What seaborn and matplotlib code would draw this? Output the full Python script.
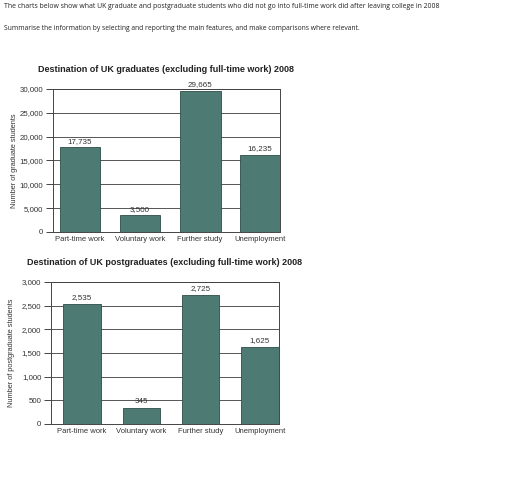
import matplotlib
matplotlib.use("Agg")
import matplotlib.pyplot as plt
import seaborn as sns
import pandas as pd

# data
categories = ["Part-time work", "Voluntary work", "Further study", "Unemployment"]
grad_values = [17735, 3500, 29665, 16235]
postgrad_values = [2535, 345, 2725, 1625]
grad_ticks = [0, 5000, 10000, 15000, 20000, 25000, 30000]
postgrad_ticks = [0, 500, 1000, 1500, 2000, 2500, 3000]

header1 = ("The charts below show what UK graduate and postgraduate students who did not go "
           "into full-time work did after leaving college in 2008")
header2 = "Summarise the information by selecting and reporting the main features, and make comparisons where relevant."

sns.set_style("white")
plt.rcParams["font.family"] = ["Liberation Sans", "DejaVu Sans"]

bar_col = "#4d7a72"
edge_col = "#2e4d48"
text_col = "#333333"

fig = plt.figure(figsize=(5.12, 5.0), dpi=100)
fig.patch.set_facecolor("white")

fig.text(4 / 512, 1 - 7 / 500, header1, fontsize=4.95, family="Open Sans", va="center", ha="left", color="#222222")
fig.text(4 / 512, 1 - 28 / 500, header2, fontsize=4.9, family="Open Sans", va="center", ha="left", color="#222222")


def draw(ax, values, ticks, title, ylabel, width, xlim, ylabel_x):
    df = pd.DataFrame({"cat": categories, "val": values})
    sns.barplot(data=df, x="cat", y="val", color=bar_col, width=width,
                edgecolor=edge_col, linewidth=0.6, saturation=1, ax=ax, zorder=3)
    ax.set_xlim(*xlim)
    ax.set_ylim(0, ticks[-1])
    ax.set_yticks(ticks)
    ax.set_yticklabels([f"{t:,}" for t in ticks], fontsize=5.7, color=text_col)
    ax.set_xticks(range(len(categories)))
    ax.set_xticklabels(categories, fontsize=5.5, color=text_col)
    ax.tick_params(axis="y", direction="out", length=5, width=0.7, color="#444444", pad=2, left=True)
    ax.tick_params(axis="x", length=0, pad=3)
    ax.yaxis.grid(True, color="#555555", linewidth=0.7, zorder=0)
    ax.set_axisbelow(True)
    for s in ax.spines.values():
        s.set_visible(True)
        s.set_color("#444444")
        s.set_linewidth(0.7)
    ax.set_xlabel("")
    ax.set_ylabel("")
    fig.text(ylabel_x, ax.get_position().y0 + ax.get_position().height / 2, ylabel,
             rotation=90, fontsize=5.3, color=text_col, ha="center", va="center")
    ax.set_title(title, fontsize=6.45, fontweight="bold", color="#222222", pad=12)
    for i, v in enumerate(values):
        ax.text(i, v + ticks[-1] * 0.018, f"{v:,}", ha="center", va="bottom",
                fontsize=5.8, color=text_col, zorder=4)


ax1 = fig.add_axes([53 / 512, 1 - 232 / 500, 227 / 512, 143 / 500])
draw(ax1, grad_values, grad_ticks,
     "Destination of UK graduates (excluding full-time work) 2008",
     "Number of graduate students", 0.68, (-0.45, 3.33), 15 / 512)

ax2 = fig.add_axes([51 / 512, 1 - 424 / 500, 228 / 512, 142 / 500])
draw(ax2, postgrad_values, postgrad_ticks,
     "Destination of UK postgraduates (excluding full-time work) 2008",
     "Number of postgraduate students", 0.63, (-0.52, 3.32), 12 / 512)

fig.savefig("out.png", dpi=100, facecolor="white")
